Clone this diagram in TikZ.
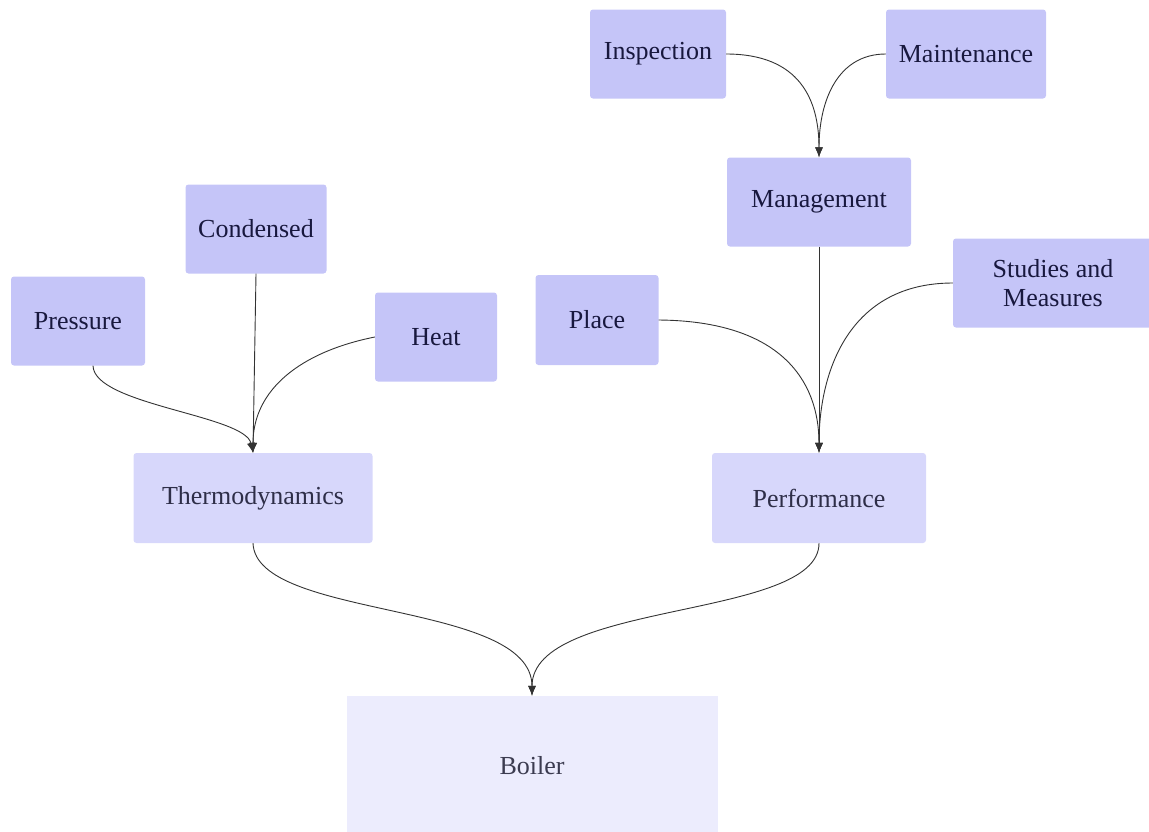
\documentclass[tikz,border=0pt]{standalone}
\usepackage{fontspec}
\setmainfont{Liberation Serif}
\usetikzlibrary{arrows.meta}
\definecolor{boxdark}{HTML}{C5C5F8}
\definecolor{boxmid}{HTML}{D7D7FB}
\definecolor{boxlight}{HTML}{ECECFD}
\definecolor{txtdark}{HTML}{18183E}
\definecolor{txtmid}{HTML}{2E2E48}
\definecolor{txtlight}{HTML}{3C3C50}
\definecolor{linkcol}{HTML}{333333}
\begin{document}
\begin{tikzpicture}[x=1pt,y=-1pt,
  every node/.style={font=\fontsize{26}{29}\selectfont},
  leaf/.style={fill=boxdark, text=txtdark, rounded corners=3pt, inner sep=0pt, align=center},
  mid/.style={fill=boxmid, text=txtmid, rounded corners=3pt, inner sep=0pt},
  root/.style={fill=boxlight, text=txtlight, inner sep=0pt},
  link/.style={draw=linkcol, line width=0.9pt, -{Latex[length=10pt,width=8pt]}}]
\useasboundingbox (0,0) rectangle (1149,831);

% top-level inputs
\node[leaf, minimum width=136pt, minimum height=89pt] (insp) at (658,54) {Inspection};
\node[leaf, minimum width=160pt, minimum height=89pt] (mant) at (966,54) {Maintenance};
\node[leaf, minimum width=184pt, minimum height=89pt] (mgmt) at (819,202) {Management};
\node[leaf, minimum width=141pt, minimum height=89pt] (cond) at (256,229) {Condensed};
\node[leaf, minimum width=134pt, minimum height=89pt] (pres) at (78,321) {Pressure};
\node[leaf, minimum width=122pt, minimum height=89pt] (heat) at (436,337) {Heat};
\node[leaf, minimum width=123pt, minimum height=90pt] (plac) at (597,320) {Place};
\node[leaf, minimum width=200pt, minimum height=89pt] (stud) at (1053,283) {Studies and\\Measures};

% intermediate groups
\node[mid, minimum width=239pt, minimum height=90pt] (thermo) at (253,498) {Thermodynamics};
\node[mid, minimum width=214pt, minimum height=90pt] (perf) at (819,498) {Performance};

% result
\node[root, minimum width=371pt, minimum height=140pt] (boil) at (532,766) {Boiler};

% connectors
\draw[link] (insp.east) .. controls (800,54) and (819,100) .. (mgmt.north);
\draw[link] (mant.west) .. controls (838,54) and (819,100) .. (mgmt.north);
\draw[link] (mgmt.south) -- (perf.north);
\draw[link] (plac.east) .. controls (780,321) and (819,380) .. (perf.north);
\draw[link] (stud.west) .. controls (850,283) and (819,370) .. (perf.north);

\draw[link] (cond.south) -- (thermo.north);
\draw[link] ([xshift=15pt]pres.south) .. controls (94,405) and (245,415) .. (thermo.north);
\draw[link] (heat.west) .. controls (300,352) and (253,390) .. (thermo.north);

\draw[link] (thermo.south) .. controls (256,620) and (532,600) .. (boil.north);
\draw[link] (perf.south) .. controls (819,620) and (532,600) .. (boil.north);
\end{tikzpicture}
\end{document}
